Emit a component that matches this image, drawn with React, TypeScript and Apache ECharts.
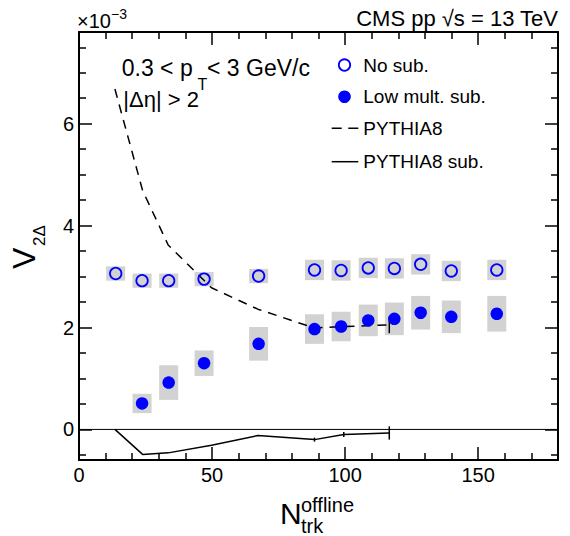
import React, { useEffect, useRef } from "react";
import * as echarts from "echarts";

// ---- data (values in units of 1e-3) ----
const xNoSub = [13.8, 23.7, 33.7, 47.0, 67.5, 88.5, 98.5, 108.7, 118.5, 128.4, 139.9, 157.0];
const vNoSub = [3.06, 2.92, 2.92, 2.95, 3.01, 3.13, 3.12, 3.17, 3.16, 3.24, 3.11, 3.13];
const sysNoSub = [0.14, 0.14, 0.14, 0.14, 0.14, 0.2, 0.2, 0.2, 0.2, 0.2, 0.2, 0.2];

const xLowMult = [23.7, 33.7, 47.0, 67.5, 88.5, 98.5, 108.7, 118.5, 128.4, 139.9, 157.0];
const vLowMult = [0.51, 0.92, 1.3, 1.68, 1.97, 2.02, 2.14, 2.17, 2.29, 2.21, 2.27];
const sysLowMult = [0.19, 0.34, 0.25, 0.33, 0.29, 0.29, 0.31, 0.32, 0.33, 0.32, 0.35];

const xPythia = [13.5, 23.9, 33.5, 49.8, 67.2, 88.5, 99.5, 116.6];
const vPythia = [6.68, 4.69, 3.62, 2.78, 2.36, 1.99, 2.02, 2.05];
const errPythia = [0, 0, 0, 0, 0, 0.03, 0.03, 0.16];
const vPythiaSub = [0.0, -0.49, -0.46, -0.31, -0.12, -0.2, -0.1, -0.07];
const errPythiaSub = [0, 0, 0, 0, 0, 0.04, 0.05, 0.13];

const legendNames = ["No sub.", "Low mult. sub.", "PYTHIA8", "PYTHIA8 sub."];

const xMajorTicks = [0, 50, 100, 150];
const xMinorTicks = [10, 20, 30, 40, 60, 70, 80, 90, 110, 120, 130, 140, 160, 170];
const yMajorTicks = [0, 2, 4, 6];
const yMinorTicks = [-0.5, 0.5, 1, 1.5, 2.5, 3, 3.5, 4.5, 5, 5.5, 6.5, 7, 7.5];

const X_MIN = 0;
const X_MAX = 180;
const Y_MIN = -0.6;
const Y_MAX = 7.8;

const FONT = "'Liberation Sans', Arial, Helvetica, sans-serif";
const BLUE = "#0000ff";

export default function App() {
  const ref = useRef<HTMLDivElement>(null);

  useEffect(() => {
    if (!ref.current) return;
    const chart = echarts.init(ref.current, null, { renderer: "svg" });

    const boxRender = (params: any, api: any) => {
      const x = api.value(0);
      const y = api.value(1);
      const e = api.value(2);
      const c = api.coord([x, y]);
      const h = api.size([0, e])[1];
      return {
        type: "rect",
        shape: { x: c[0] - 9.5, y: c[1] - h, width: 19, height: 2 * h },
        style: { fill: "#d2d2d2" },
      };
    };

    const errRender = (params: any, api: any) => {
      const x = api.value(0);
      const y = api.value(1);
      const e = api.value(2);
      if (!e) return null;
      const lo = api.coord([x, y - e]);
      const hi = api.coord([x, y + e]);
      return {
        type: "line",
        shape: { x1: lo[0], y1: lo[1], x2: hi[0], y2: hi[1] },
        style: { stroke: "#000", lineWidth: 1.5 },
      };
    };

    const mkX = (position: string, ticks: number[], len: number, line: boolean, labels: boolean) => ({
      type: "value",
      position,
      min: X_MIN,
      max: X_MAX,
      axisLine: { show: line, onZero: false, lineStyle: { color: "#000", width: 2 } },
      axisTick: { show: true, inside: true, length: len, customValues: ticks, lineStyle: { color: "#000", width: 1.5 } },
      axisLabel: labels
        ? { show: true, customValues: ticks, fontSize: 20, fontFamily: FONT, color: "#000", margin: 5 }
        : { show: false },
      splitLine: { show: false },
    });
    const mkY = (position: string, ticks: number[], len: number, line: boolean, labels: boolean) => ({
      type: "value",
      position,
      min: Y_MIN,
      max: Y_MAX,
      axisLine: { show: line, onZero: false, lineStyle: { color: "#000", width: 2 } },
      axisTick: { show: true, inside: true, length: len, customValues: ticks, lineStyle: { color: "#000", width: 1.5 } },
      axisLabel: labels
        ? { show: true, customValues: ticks, fontSize: 20, fontFamily: FONT, color: "#000", margin: 5 }
        : { show: false },
      splitLine: { show: false },
    });

    const txt = (text: string, x: number, y: number, fontSize: number, align = "left") => ({
      type: "text",
      x,
      y,
      style: { text, fontSize, fontFamily: FONT, fill: "#000", align, verticalAlign: "middle" },
    });

    const legendRows = [65, 96.7, 128.3, 161.7];
    const legendGraphics: any[] = [
      { type: "circle", shape: { cx: 344.5, cy: legendRows[0], r: 5.7 }, style: { fill: "none", stroke: BLUE, lineWidth: 1.8 } },
      { type: "circle", shape: { cx: 344.5, cy: legendRows[1], r: 6.3 }, style: { fill: BLUE } },
      { type: "line", shape: { x1: 331.7, y1: legendRows[2], x2: 358.3, y2: legendRows[2] }, style: { stroke: "#000", lineWidth: 1.5, lineDash: [10, 6.6] } },
      { type: "line", shape: { x1: 331.7, y1: legendRows[3], x2: 358.3, y2: legendRows[3] }, style: { stroke: "#000", lineWidth: 1.5 } },
      ...legendNames.map((n, i) => txt(n, 363.3, legendRows[i], 19)),
    ];

    const option: any = {
      animation: false,
      backgroundColor: "#fff",
      grid: { left: 79, right: 12, top: 32, bottom: 76, containLabel: false },
      xAxis: [
        mkX("bottom", xMajorTicks, 13, true, true),
        mkX("bottom", xMinorTicks, 7, false, false),
        mkX("top", xMajorTicks, 13, true, false),
        mkX("top", xMinorTicks, 7, false, false),
      ],
      yAxis: [
        mkY("left", yMajorTicks, 13, true, true),
        mkY("left", yMinorTicks, 7, false, false),
        mkY("right", yMajorTicks, 13, true, false),
        mkY("right", yMinorTicks, 7, false, false),
      ],
      graphic: [
        txt("CMS pp √s = 13 TeV", 558, 18, 22, "right"),
        txt("×10", 77, 21, 20),
        txt("−3", 111, 14, 14),
        txt("0.3 < p", 121.7, 67.5, 23),
        txt("T", 197.5, 84, 16),
        txt("< 3 GeV/c", 207, 67.5, 23),
        txt("|Δη| > 2", 123.3, 99.5, 22),
        txt("N", 280, 513.3, 30),
        txt("offline", 301, 505, 20),
        txt("trk", 301, 526, 20),
        {
          type: "group",
          x: 35,
          y: 269,
          rotation: Math.PI / 2,
          children: [txt("V", 0, -11.5, 32), txt("2Δ", 23, 4, 17)],
        },
        ...legendGraphics,
      ],
      series: [
        {
          name: "sysNoSub",
          type: "custom",
          renderItem: boxRender,
          data: xNoSub.map((x, i) => [x, vNoSub[i], sysNoSub[i]]),
          z: 1,
          silent: true,
        },
        {
          name: "sysLowMult",
          type: "custom",
          renderItem: boxRender,
          data: xLowMult.map((x, i) => [x, vLowMult[i], sysLowMult[i]]),
          z: 1,
          silent: true,
        },
        {
          name: "zero",
          type: "line",
          data: [[X_MIN, 0], [X_MAX, 0]],
          symbol: "none",
          lineStyle: { color: "#000", width: 1 },
          z: 2,
          silent: true,
        },
        {
          name: legendNames[2],
          type: "line",
          data: xPythia.map((x, i) => [x, vPythia[i]]),
          symbol: "none",
          lineStyle: { color: "#000", width: 1.5, type: [9, 7] },
          z: 3,
          silent: true,
        },
        {
          name: legendNames[3],
          type: "line",
          data: xPythia.map((x, i) => [x, vPythiaSub[i]]),
          symbol: "none",
          lineStyle: { color: "#000", width: 1.5 },
          z: 3,
          silent: true,
        },
        {
          name: "errPythia",
          type: "custom",
          renderItem: errRender,
          data: xPythia.map((x, i) => [x, vPythia[i], errPythia[i]]),
          z: 3,
          silent: true,
        },
        {
          name: "errPythiaSub",
          type: "custom",
          renderItem: errRender,
          data: xPythia.map((x, i) => [x, vPythiaSub[i], errPythiaSub[i]]),
          z: 3,
          silent: true,
        },
        {
          name: legendNames[0],
          type: "scatter",
          data: xNoSub.map((x, i) => [x, vNoSub[i]]),
          symbol: "circle",
          symbolSize: 11.5,
          itemStyle: { color: "rgba(0,0,0,0)", borderColor: BLUE, borderWidth: 1.8, opacity: 1 },
          z: 5,
          silent: true,
        },
        {
          name: legendNames[1],
          type: "scatter",
          data: xLowMult.map((x, i) => [x, vLowMult[i]]),
          symbol: "circle",
          symbolSize: 12.5,
          itemStyle: { color: BLUE, opacity: 1 },
          z: 5,
          silent: true,
        },
      ],
    };

    chart.setOption(option);
    return () => chart.dispose();
  }, []);

  return (
    <div
      ref={ref}
      style={{ position: "fixed", left: 0, top: 0, width: 570, height: 536, background: "#fff" }}
    />
  );
}
